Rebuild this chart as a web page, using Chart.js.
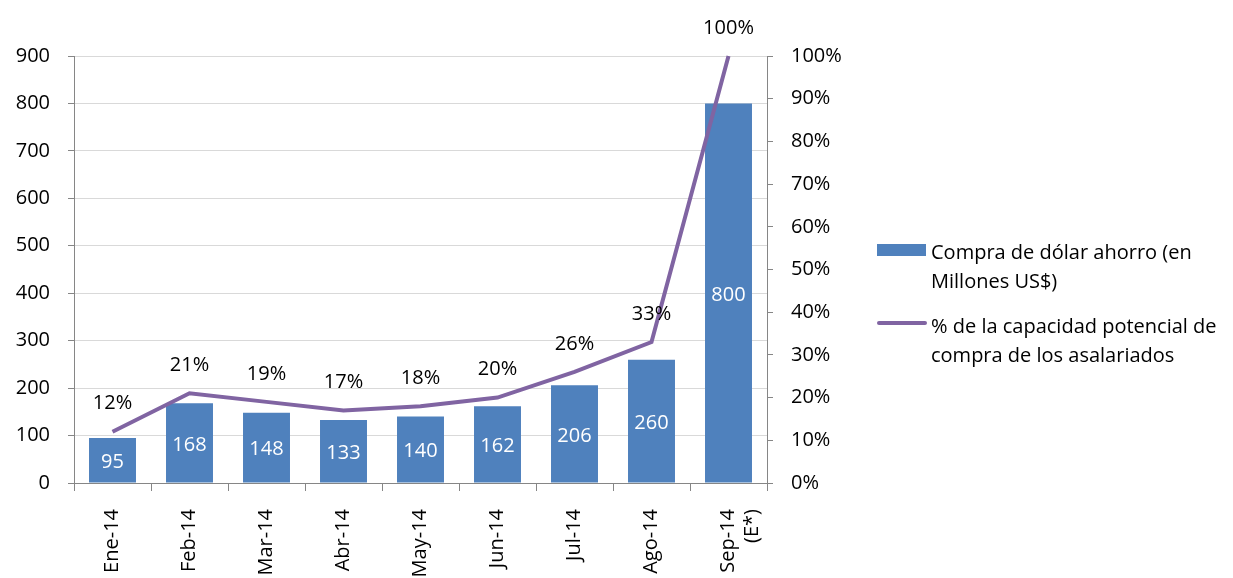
<!DOCTYPE html>
<html>
<head>
<meta charset="utf-8">
<script src="https://cdn.jsdelivr.net/npm/chart.js@4/dist/chart.umd.min.js"></script>
<style>
  html, body { margin:0; padding:0; background:#fff; }
  #wrap { position:relative; width:1233px; height:578px; overflow:hidden; }
  canvas { position:absolute; left:0; top:0; }
  .leg { position:absolute; font-family: "Open Sans", sans-serif; font-size:20px; color:#000; line-height:29px; white-space:nowrap; }
  .box { position:absolute; background:#4F81BD; }
  .ln { position:absolute; background:#8064A2; border-radius:2px; }
</style>
</head>
<body>
<div id="wrap">
  <canvas id="c" width="1233" height="578"></canvas>
  <div class="box" style="left:877px;top:244px;width:49px;height:12px;"></div>
  <div class="leg" style="left:931px;top:237px;">Compra de dólar&nbsp;ahorro (en<br>Millones US$)</div>
  <div class="ln" style="left:877px;top:321px;width:50px;height:4px;"></div>
  <div class="leg" style="left:931px;top:311px;">% de la capacidad potencial de<br>compra de los asalariados</div>
</div>
<script>
const categories = ["Ene-14","Feb-14","Mar-14","Abr-14","May-14","Jun-14","Jul-14","Ago-14",["Sep-14","(E*)"]];
const compraDolar = [95,168,148,133,140,162,206,260,800];
const capacidadPct = [12,21,19,17,18,20,26,33,100];
const leftTicks = [0,100,200,300,400,500,600,700,800,900];
const rightTicks = [0,10,20,30,40,50,60,70,80,90,100];

const FONT = "'Open Sans', sans-serif";
Chart.defaults.font.family = FONT;
Chart.defaults.font.size = 20;
Chart.defaults.color = '#000';

const labelPlugin = {
  id: 'valLabels',
  afterDatasetsDraw(chart) {
    const ctx = chart.ctx;
    ctx.save();
    ctx.font = "20px " + FONT;
    ctx.textAlign = 'center';
    ctx.textBaseline = 'middle';
    const barMeta = chart.getDatasetMeta(0);
    barMeta.data.forEach((el, i) => {
      const cy = (el.y + el.base) / 2 + 2;
      ctx.fillStyle = '#fff';
      ctx.fillText(String(compraDolar[i]), el.x, cy);
    });
    const lineMeta = chart.getDatasetMeta(1);
    lineMeta.data.forEach((el, i) => {
      ctx.fillStyle = '#000';
      ctx.fillText(capacidadPct[i] + '%', el.x, el.y - 28);
    });
    ctx.restore();
  }
};

new Chart(document.getElementById('c'), {
  data: {
    labels: categories,
    datasets: [
      {
        type: 'bar',
        label: 'Compra de dólar ahorro (en Millones US$)',
        data: compraDolar,
        backgroundColor: '#4F81BD',
        yAxisID: 'y',
        order: 2,
        categoryPercentage: 1.0,
        barPercentage: 0.61
      },
      {
        type: 'line',
        label: '% de la capacidad potencial de compra de los asalariados',
        data: capacidadPct,
        borderColor: '#8064A2',
        borderWidth: 4,
        pointRadius: 0,
        tension: 0,
        fill: false,
        yAxisID: 'y1',
        order: 1,
        clip: false
      }
    ]
  },
  options: {
    responsive: false,
    animation: false,
    devicePixelRatio: 1,
    layout: { padding: { top: 56, left: 0, right: 0, bottom: 0 } },
    plugins: { legend: { display: false }, tooltip: { enabled: false } },
    scales: {
      x: {
        grid: { offset: true, drawOnChartArea: false, tickLength: 8, color: '#868686', tickColor: '#868686' },
        border: { color: '#868686', width: 1 },
        ticks: { maxRotation: 90, minRotation: 90, autoSkip: false, padding: 18, font: { size: 20 } },
        afterFit(s) { s.height = 95; }
      },
      y: {
        position: 'left',
        min: 0, max: 900,
        afterBuildTicks(s) { s.ticks = leftTicks.map(v => ({ value: v })); },
        grid: { color: '#D9D9D9', tickColor: '#868686', tickLength: 6 },
        border: { color: '#868686', width: 1 },
        ticks: { padding: 18, font: { size: 20 } },
        afterFit(s) { s.width = 74; }
      },
      y1: {
        position: 'right',
        min: 0, max: 100,
        afterBuildTicks(s) { s.ticks = rightTicks.map(v => ({ value: v })); },
        grid: { drawOnChartArea: false, tickColor: '#868686', tickLength: 6 },
        border: { color: '#868686', width: 1 },
        ticks: { padding: 18, font: { size: 20 }, callback: v => v + '%' },
        afterFit(s) { s.width = 466; }
      }
    }
  },
  plugins: [labelPlugin]
});
</script>
</body>
</html>
